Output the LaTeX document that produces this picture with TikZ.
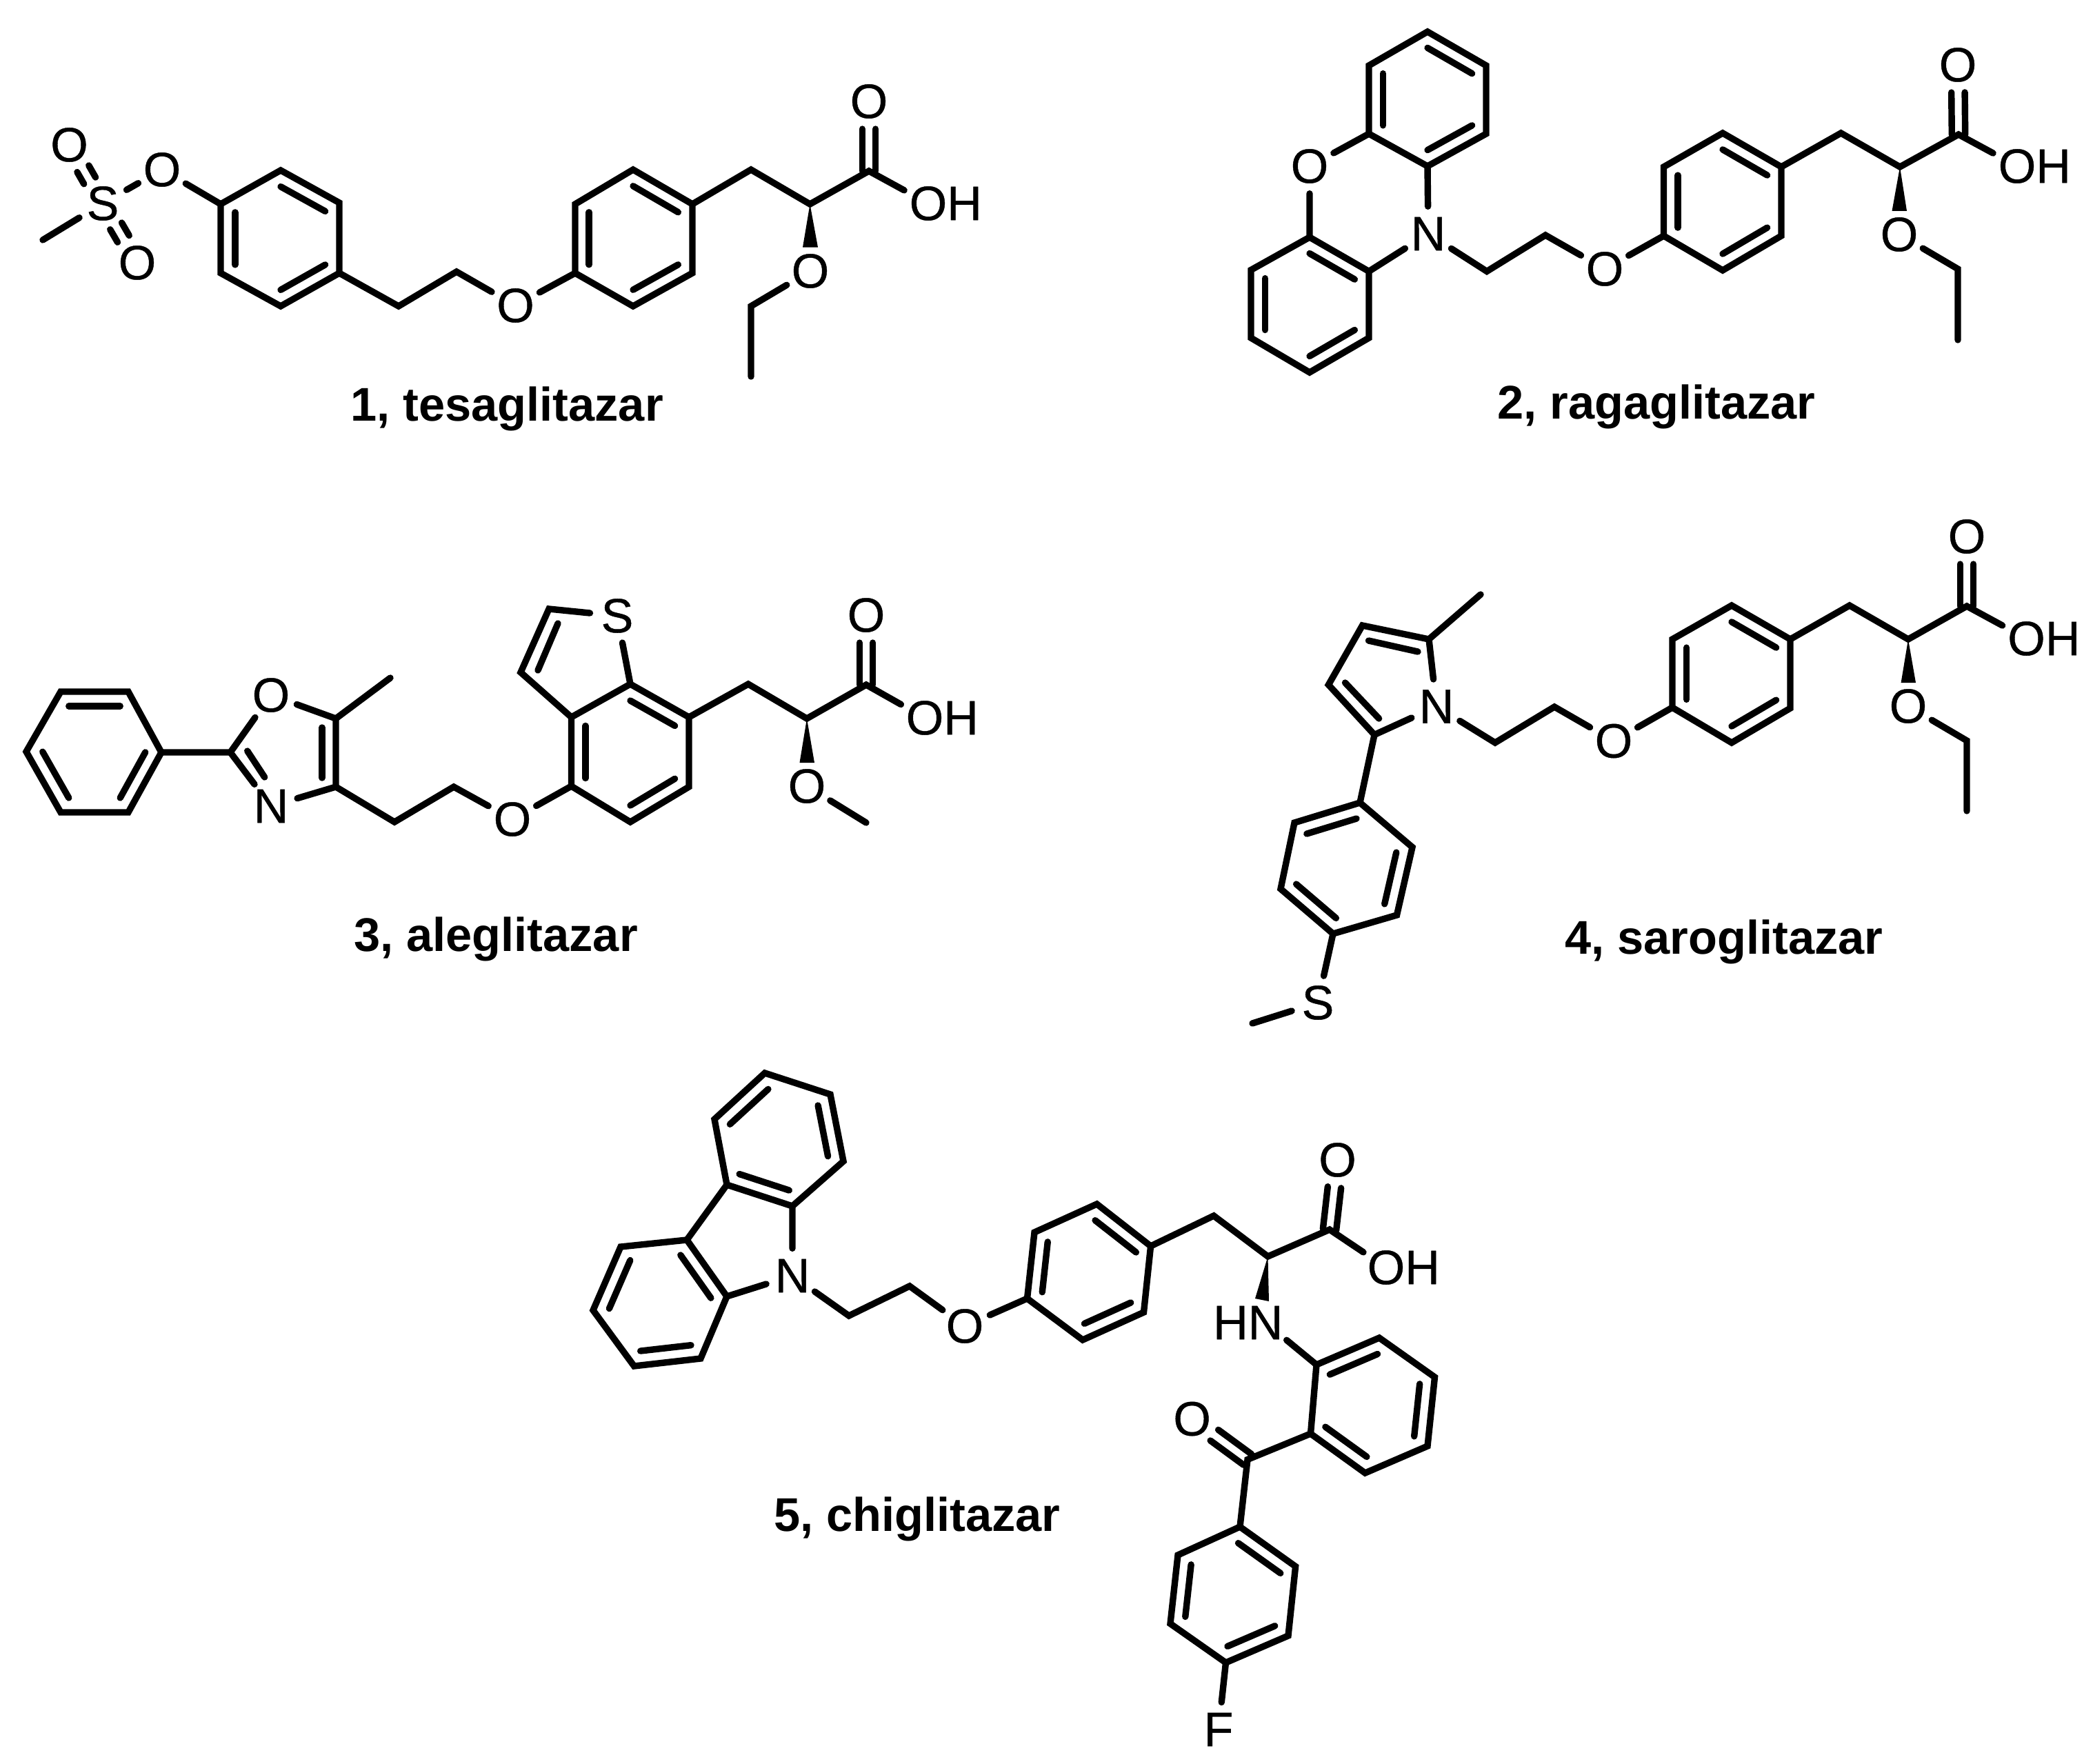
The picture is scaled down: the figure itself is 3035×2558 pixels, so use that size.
\documentclass[tikz,border=0pt]{standalone}
\usepackage{fontspec}
\setmainfont{Liberation Sans}
\newfontfamily\atomfont[FakeBold=0.6]{Liberation Sans}
\usetikzlibrary{calc}
\tikzset{
  x=0.01cm,y=-0.01cm,
  bond/.style={line width=.094cm,line cap=round,line join=miter,miter limit=10,black},
  atom/.style={circle,inner sep=0pt,minimum size=.78cm,font=\atomfont\fontsize{19.9pt}{24pt}\selectfont,text=black},
  caption/.style={anchor=base,inner sep=0pt,font=\fontsize{19.5pt}{24pt}\selectfont\bfseries,text=black},
}
\newcommand{\at}[1]{\makebox[0pt]{#1}}
\newcommand{\OH}{\makebox[0pt]{O\rlap{H}}}
\newcommand{\HN}{\makebox[0pt]{\llap{H}N}}
% six-membered aromatic ring: edges ab, cd, ef carry the inner line
\newcommand{\hexring}[7]{%
  \coordinate (#1a) at (#2);\coordinate (#1b) at (#3);\coordinate (#1c) at (#4);
  \coordinate (#1d) at (#5);\coordinate (#1e) at (#6);\coordinate (#1f) at (#7);
  \coordinate (#1o) at ($(#1a)!.5!(#1d)$);
  \draw[bond] (#1a) -- (#1b) -- (#1c) -- (#1d) -- (#1e) -- (#1f) -- cycle;
  \draw[bond] ($(#1a)!.24!(#1o)$) -- ($(#1b)!.24!(#1o)$);
  \draw[bond] ($(#1c)!.24!(#1o)$) -- ($(#1d)!.24!(#1o)$);
  \draw[bond] ($(#1e)!.24!(#1o)$) -- ($(#1f)!.24!(#1o)$);
}
% carbonyl double bond from a carbon point to an oxygen node
\newcommand{\carbonyl}[2]{%
  \draw[bond,shorten >=.40cm] ($(#1)!.097cm!90:(#2)$) -- ($(#2)!.097cm!-90:(#1)$);
  \draw[bond,shorten >=.40cm] ($(#1)!.097cm!-90:(#2)$) -- ($(#2)!.097cm!90:(#1)$);
}
% double bond between two atom nodes
\newcommand{\sulfonyl}[2]{%
  \draw[bond,shorten <=.38cm,shorten >=.40cm] ($(#1)!.097cm!90:(#2)$) -- ($(#2)!.097cm!-90:(#1)$);
  \draw[bond,shorten <=.38cm,shorten >=.40cm] ($(#1)!.097cm!-90:(#2)$) -- ($(#2)!.097cm!90:(#1)$);
}
\begin{document}
\begin{tikzpicture}
\useasboundingbox (0,0) rectangle (3035,2558);
\fill[white] (0,0) rectangle (3035,2558);

%% ---------- 1, tesaglitazar ----------
\node[atom] (s1) at (149,295) {\at{S}};
\node[atom] (o1u) at (100.5,210) {\at{O}};
\node[atom] (o1d) at (199,381) {\at{O}};
\node[atom] (o1r) at (235,246) {\at{O}};
\node[atom] (o1e) at (747.5,443) {\at{O}};
\node[atom] (o1c) at (1260,147) {\at{O}};
\node[atom] (o1h) at (1346,295) {\OH};
\node[atom] (o1t) at (1175,393) {\at{O}};
\coordinate (m1) at (62,348);
\coordinate (g1) at (578,444);
\coordinate (h1) at (662,394);
\coordinate (ch21) at (1089,246);
\coordinate (ch1) at (1174.5,296);
\coordinate (c1) at (1260,248);
\coordinate (et1a) at (1089,444);
\coordinate (et1b) at (1089,546);
\hexring{ra}{407,247}{492,294}{492,396}{407,444}{320,396}{320,296}
\hexring{rb}{918,246}{1004,296}{1004,396}{918,444}{834,396}{834,296}
\draw[bond] (m1) -- (s1);
\sulfonyl{s1}{o1u}
\sulfonyl{s1}{o1d}
\draw[bond] (s1) -- (o1r);
\draw[bond] (o1r) -- (raf);
\draw[bond] (rac) -- (g1) -- (h1) -- (o1e);
\draw[bond] (o1e) -- (rbe);
\draw[bond] (rbb) -- (ch21) -- (ch1) -- (c1) -- (o1h);
\carbonyl{c1}{o1c}
\fill (ch1) -- (1164,358.6) -- (1186,358.6) -- cycle;
\draw[bond] (o1t) -- (et1a) -- (et1b);
\node[caption] (cap1) at (735,611) {1, tesaglitazar};

%% ---------- 2, ragaglitazar ----------
\node[atom] (o2a) at (1899,241) {\at{O}};
\node[atom] (n2) at (2071,339) {\at{N}};
\node[atom] (o2e) at (2327,390) {\at{O}};
\node[atom] (o2c) at (2839,94) {\at{O}};
\node[atom] (o2h) at (2925,241) {\OH};
\node[atom] (o2t) at (2754,340) {\at{O}};
\coordinate (g2) at (2156,393.5);
\coordinate (h2) at (2241,341);
\coordinate (ch22) at (2669.5,193);
\coordinate (ch2) at (2755,242);
\coordinate (c2) at (2840,195);
\coordinate (et2a) at (2839,390);
\coordinate (et2b) at (2839,493);
\hexring{rc}{2070,46}{2155,95}{2155,194}{2070,241}{1985,194}{1985,95}
\hexring{rd}{1899,344}{1985,393.5}{1985,490}{1899,540}{1814,490}{1814,391.5}
\hexring{re}{2498,193}{2583,242}{2583,342}{2498,392}{2412.5,342}{2412.5,242}
\draw[bond] (rce) -- (o2a) -- (rda);
\draw[bond] (rcd) -- (n2) -- (rdb);
\draw[bond] (n2) -- (g2) -- (h2) -- (o2e);
\draw[bond] (o2e) -- (ree);
\draw[bond] (reb) -- (ch22) -- (ch2) -- (c2) -- (o2h);
\carbonyl{c2}{o2c}
\fill (ch2) -- (2743.5,306) -- (2765,306) -- cycle;
\draw[bond] (o2t) -- (et2a) -- (et2b);
\node[caption] (cap2) at (2402,608) {2, ragaglitazar};

%% ---------- 3, aleglitazar ----------
\node[atom] (o3x) at (393,1008) {\at{O}};
\node[atom] (n3) at (393,1169) {\at{N}};
\node[atom] (o3e) at (743,1188) {\at{O}};
\node[atom] (s3) at (895,893) {\at{S}};
\node[atom] (o3c) at (1256,892) {\at{O}};
\node[atom] (o3h) at (1341,1041) {\OH};
\node[atom] (o3t) at (1170,1140) {\at{O}};
\coordinate (c32) at (334,1091);
\coordinate (c35) at (487,1042);
\coordinate (c34) at (487,1141);
\coordinate (m3) at (566,983);
\coordinate (g3) at (572,1192);
\coordinate (h3) at (658,1141);
\coordinate (t3a) at (796,883);
\coordinate (t3b) at (755,975);
\coordinate (ch23) at (1085,992);
\coordinate (ch3) at (1170,1042);
\coordinate (c3) at (1256,993);
\coordinate (me3) at (1256,1193);
\hexring{rf}{88,1003}{186,1003}{234,1091}{186,1178}{88,1178}{38,1090}
\hexring{rg}{914,992}{999,1040}{999,1141}{914,1192}{828.5,1140}{828.5,1040}
\draw[bond] (rfc) -- (c32) -- (o3x);
\draw[bond] (c32) -- (n3);
\draw[bond] (358.7,1089) -- (383.7,1127);
\draw[bond] (o3x) -- (c35) -- (c34) -- (n3);
\draw[bond] (467,1055) -- (467,1128);
\draw[bond] (c35) -- (m3);
\draw[bond] (c34) -- (g3) -- (h3) -- (o3e);
\draw[bond] (o3e) -- (rge);
\draw[bond] (rgf) -- (t3b) -- (t3a) -- (s3);
\draw[bond] (s3) -- (rga);
\draw[bond] (809,904) -- (780,972);
\draw[bond] (rgb) -- (ch23) -- (ch3) -- (c3) -- (o3h);
\carbonyl{c3}{o3c}
\fill (ch3) -- (1159.5,1106) -- (1181,1106) -- cycle;
\draw[bond] (o3t) -- (me3);
\node[caption] (cap3) at (719,1379) {3, aleglitazar};

%% ---------- 4, saroglitazar ----------
\node[atom] (n4) at (2083,1024.5) {\at{N}};
\node[atom] (s4) at (1911,1454) {\at{S}};
\node[atom] (o4e) at (2340,1074.5) {\at{O}};
\node[atom] (o4c) at (2852,778) {\at{O}};
\node[atom] (o4h) at (2938.5,926) {\OH};
\node[atom] (o4t) at (2767,1024) {\at{O}};
\coordinate (p45) at (2072,927);
\coordinate (p44) at (1975.5,907);
\coordinate (p43) at (1926.4,993);
\coordinate (p42) at (1993,1065.5);
\coordinate (m4) at (2147,862);
\coordinate (me4) at (1816,1484);
\coordinate (g4) at (2168,1077);
\coordinate (h4) at (2254,1025);
\coordinate (ch24) at (2682,878);
\coordinate (ch4) at (2767,927);
\coordinate (c4) at (2852,879);
\coordinate (et4a) at (2852,1074);
\coordinate (et4b) at (2852,1176);
\hexring{rh}{1877,1193}{1972,1164}{2048,1228.5}{2025.5,1327}{1933,1354}{1857,1289}
\hexring{ri}{2511,878}{2596,927}{2596,1027}{2511,1077}{2425,1026}{2425,927}
\draw[bond] (n4) -- (p45) -- (p44) -- (p43) -- (p42) -- (n4);
\draw[bond] (1984.5,929) -- (2056,945);
\draw[bond] (1950.5,990) -- (1999.6,1042);
\draw[bond] (p45) -- (m4);
\draw[bond] (p42) -- (rhb);
\draw[bond] (rhe) -- (s4) -- (me4);
\draw[bond] (n4) -- (g4) -- (h4) -- (o4e);
\draw[bond] (o4e) -- (rie);
\draw[bond] (rib) -- (ch24) -- (ch4) -- (c4) -- (o4h);
\carbonyl{c4}{o4c}
\fill (ch4) -- (2756.6,990) -- (2778,990) -- cycle;
\draw[bond] (o4t) -- (et4a) -- (et4b);
\node[caption] (cap4) at (2500,1383) {4, saroglitazar};

%% ---------- 5, chiglitazar ----------
\node[atom] (n5) at (1149,1850) {\at{N}};
\node[atom] (o5e) at (1399,1923) {\at{O}};
\node[atom] (o5c) at (1939.5,1682) {\at{O}};
\node[atom] (o5h) at (2010,1838) {\OH};
\node[atom] (n5h) at (1835,1918) {\HN};
\node[atom] (o5k) at (1728.6,2057.5) {\at{O}};
\node[atom] (f5) at (1767,2508) {\at{F}};
\coordinate (g5) at (1231,1908);
\coordinate (h5) at (1319,1865);
\coordinate (ch25) at (1760,1763);
\coordinate (ch5) at (1838.5,1822);
\coordinate (c5) at (1928,1783);
\coordinate (k5) at (1809,2116.5);
\hexring{rj}{1036,1623}{1109,1556}{1204,1587}{1223,1684}{1149,1749}{1054,1718}
\hexring{rk}{996,1798}{1054,1880}{1016,1970}{919.5,1981}{860,1900}{900,1808}
\hexring{rl}{1590.5,1746}{1668.6,1807}{1658.5,1903}{1570,1943}{1489.5,1883}{1500,1787}
\hexring{rm}{1909,1979}{2000,1940}{2080.5,1997}{2070,2097}{1979.5,2136}{1900.5,2079}
\hexring{rn}{1798,2214}{1878.6,2271.5}{1868,2372}{1777.5,2411}{1697,2354.5}{1708,2255}
\draw[bond] (rje) -- (n5) -- (rkb);
\draw[bond] (rjf) -- (rka);
\draw[bond] (n5) -- (g5) -- (h5) -- (o5e);
\draw[bond] (o5e) -- (rle);
\draw[bond] (rlb) -- (ch25) -- (ch5) -- (c5) -- (o5h);
\carbonyl{c5}{o5c}
\fill (ch5) -- (1820,1883) -- (1840,1887) -- cycle;
\draw[bond] (n5h) -- (rma);
\draw[bond] (rmf) -- (k5) -- (rna);
\carbonyl{k5}{o5k}
\draw[bond] (rnd) -- (f5);
\node[caption] (cap5) at (1330,2220) {5, chiglitazar};
\end{tikzpicture}
\end{document}
